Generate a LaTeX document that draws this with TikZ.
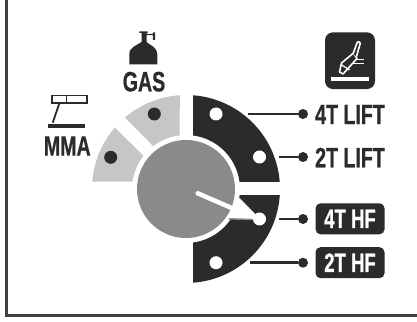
\documentclass[tikz,border=0pt]{standalone}
\usepackage{fontspec}
\newfontfamily\lblfont[FakeStretch=0.7,BoldFeatures={FakeBold=0.7}]{Liberation Sans}
\usetikzlibrary{arrows.meta,positioning,calc}
\definecolor{cDark}{HTML}{2B2B2B}
\definecolor{cLight}{HTML}{C6C6C6}
\definecolor{cKnob}{HTML}{8A8A8A}

\begin{document}
\begin{tikzpicture}[
  x=1pt,y=1pt,
  lbl/.style={inner sep=0pt,text=cDark,font=\lblfont\bfseries\fontsize{28}{28}\selectfont},
  badge/.style={rectangle,rounded corners=5pt,fill=cDark,text=white,inner sep=0pt,
              minimum width=69pt,minimum height=31pt,font=\lblfont\bfseries\fontsize{26.5}{26.5}\selectfont},
  holew/.style={circle,fill=white,inner sep=0pt,minimum size=13pt},
  holed/.style={circle,fill=cDark,inner sep=0pt,minimum size=13pt},
  pin/.style={circle,fill=cDark,inner sep=0pt,minimum size=10pt},
  ar/.style={line width=2.6pt,draw=cDark},
  tool/.style={draw=white,line width=1.6pt,line join=round}
]
\useasboundingbox (0,0) rectangle (417,321);
\fill[white] (0,0) rectangle (417,321);

%======================= FRAME =======================
\coordinate (ftop) at (6.2,321);
\coordinate (fcorner) at (6.2,5.8);
\coordinate (fright) at (417,5.8);
\draw[line width=2.6pt,draw=cDark!90] (ftop) -- (fcorner) -- (fright);

%======================= RING =======================
\coordinate (dial) at (186,132);
\fill[cLight] ([shift={(dial)}]93.8:94) arc[start angle=93.8,end angle=130.5,radius=94]
  -- ([shift={(dial)}]127.5:54) arc[start angle=127.5,end angle=96.7,radius=54] -- cycle;
\fill[cLight] ([shift={(dial)}]139.2:94) arc[start angle=139.2,end angle=175.5,radius=94]
  -- ([shift={(dial)}]172.2:54) arc[start angle=172.2,end angle=142,radius=54] -- cycle;
\fill[cDark] ([shift={(dial)}]85.7:94) arc[start angle=85.7,end angle=4.3,radius=94]
  -- ([shift={(dial)}]7.5:54) arc[start angle=7.5,end angle=82.5,radius=54] -- cycle;
\fill[cDark] ([shift={(dial)}]-3.7:94) arc[start angle=-3.7,end angle=-85.7,radius=94]
  -- ([shift={(dial)}]-82.5:54) arc[start angle=-82.5,end angle=-6.4,radius=54] -- cycle;

%======================= KNOB =======================
\fill[cKnob] (dial) circle[radius=49];
\coordinate (tipa) at (237.7,124.3);
\coordinate (tipb) at (228.3,103);
\coordinate (tipc) at (260,102);
\coordinate (ndla) at (197.7,127.7);
\coordinate (ndlb) at (231.7,113);
\draw[white,line width=4.5pt,line cap=round] (ndla) -- (ndlb);
\fill[cKnob] ($(tipa)+(1.2,-0.2)$) -- ($(tipc)+(1.5,-1.5)$) -- ($(tipb)+(0,-1.5)$) -- cycle;
\fill[white] (tipa) -- (tipc) -- (tipb) -- cycle;

%======================= SETTINGS =======================
\node[holed] (hgas) at (154.3,207) {};
\node[holed] (hmma) at (110.7,163.7) {};
\node[holew] (h4tl) at (216,207) {};
\node[holew] (h2tl) at (259.5,164) {};
\node[holew] (h4th) at (259.5,102) {};
\node[holew] (h2th) at (216,58.3) {};

%======================= LABELS =======================
\node[lbl] (lgas) at (144,239.3) {GAS};
\node[lbl] (lmma) at (67.3,175) {MMA};
\node[lbl] (l4tl) at (350,206.5) {4T LIFT};
\node[lbl] (l2tl) at (350,163.5) {2T LIFT};
\node[badge] (l4th) at (350,102.2) {4T HF};
\node[badge] (l2th) at (350,58.3) {2T HF};

\node[pin] (p4tl) at (303,207) {};
\node[pin] (p2tl) at (303,164) {};
\node[pin] (p4th) at (303,102) {};
\node[pin] (p2th) at (303,58.3) {};
\coordinate (s4tl) at (248.3,207);
\coordinate (s2tl) at (279,164);
\coordinate (s4th) at (279,102);
\coordinate (s2th) at (250,58.3);
\draw[ar] (s4tl) -- (p4tl);
\draw[ar] (s2tl) -- (p2tl);
\draw[ar] (s4th) -- (p4th);
\draw[ar] (s2th) -- (p2th);

%======================= GAS ICON =======================
\fill[cDark] (129.3,256.7) -- (129.3,267) .. controls (129.3,274) and (137,275.5) .. (141.5,279)
  -- (141.5,288) -- (139.3,288) -- (139.3,289.5) -- (147.5,289.5) -- (147.5,288) -- (146.5,288)
  -- (146.5,285.8) -- (152.8,285.8) -- (152.8,281) -- (155,281) -- (155,288.5) -- (152.8,288.5)
  -- (152.8,287) -- (146.5,287) -- (146.5,279)
  .. controls (150,275.5) and (157.3,274) .. (157.3,267) -- (157.3,256.7) -- cycle;

%======================= MMA ICON =======================
\node[draw=cDark,line width=1.8pt,inner sep=0pt,minimum width=35pt,minimum height=7.5pt] (mbox) at (69.8,221.7) {};
\coordinate (mdiv) at (66.3,225.5);
\coordinate (mdiv2) at (66.3,218);
\draw[cDark,line width=1.5pt] (mdiv) -- (mdiv2);
\coordinate (mstka) at (59.3,217.5);
\coordinate (mstkb) at (52.7,198.3);
\draw[cDark,line width=1.8pt] (mstka) -- (mstkb);
\fill[cDark] (48,193.3) rectangle (85,197);

%======================= TORCH ICON =======================
\node[fill=cDark,rounded corners=8pt,inner sep=0pt,minimum width=50pt,minimum height=56.7pt] (tbox) at (350,260.3) {};
\fill[white] (331,240) rectangle (369,244);
\draw[white,line width=1pt] (355.7,261) -- (364,261);
\draw[white,line width=1pt] (353.3,257) -- (364,257);
\draw[tool,fill=cDark] (353.5,268) -- (357,262.5) -- (343,247) -- (339.5,249) -- (341.5,258) -- cycle;
\draw[white,line width=1.2pt] (341.7,256) -- (349.5,251);
\draw[tool,fill=cDark,rounded corners=1pt] (353,267) -- (357.5,279.5) -- (360.5,278.5) -- (356.5,264.5);
\end{tikzpicture}
\end{document}
